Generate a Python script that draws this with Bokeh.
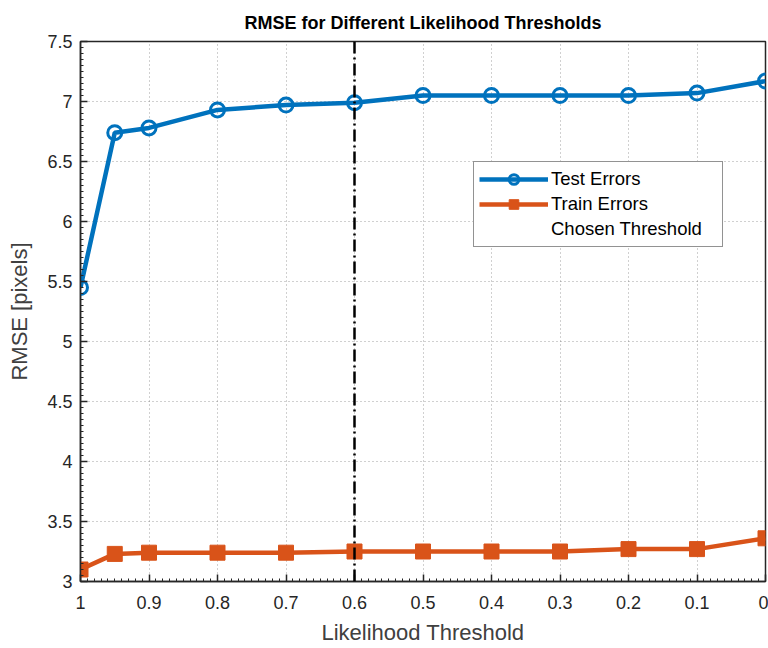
from bokeh.plotting import figure
from bokeh.models import Range1d, FixedTicker, Span, Legend, LegendItem
from bokeh.embed import file_html
from bokeh.resources import INLINE
import numpy as np

# Data
thresholds = [1, 0.95, 0.9, 0.8, 0.7, 0.6, 0.5, 0.4, 0.3, 0.2, 0.1, 0]
test_errors = [5.45, 6.74, 6.78, 6.93, 6.97, 6.99, 7.05, 7.05, 7.05, 7.05, 7.07, 7.17]
train_errors = [3.10, 3.23, 3.24, 3.24, 3.24, 3.25, 3.25, 3.25, 3.25, 3.27, 3.27, 3.36]
chosen_threshold = 0.6

x_ticks = [1, 0.9, 0.8, 0.7, 0.6, 0.5, 0.4, 0.3, 0.2, 0.1, 0]
x_tick_labels = ["1", "0.9", "0.8", "0.7", "0.6", "0.5", "0.4", "0.3", "0.2", "0.1", "0"]
y_ticks = [3, 3.5, 4, 4.5, 5, 5.5, 6, 6.5, 7, 7.5]
y_tick_labels = ["3", "3.5", "4", "4.5", "5", "5.5", "6", "6.5", "7", "7.5"]

FONT = "Liberation Sans"
BLUE = "#0072BD"
ORANGE = "#D95319"
AX = "#262626"

p = figure(width=768, height=648, output_backend="svg", toolbar_location=None,
           x_range=Range1d(1, 0), y_range=Range1d(3, 7.5),
           min_border_left=80, min_border_right=3, min_border_top=41,
           min_border_bottom=67)

p.title.text = "RMSE for Different Likelihood Thresholds"
p.title.text_font = FONT
p.title.text_font_size = "18px"
p.title.text_font_style = "bold"
p.title.text_color = "black"
p.title.align = "center"
p.title.standoff = 17

p.outline_line_color = AX
p.outline_line_width = 1.5
p.outline_line_alpha = 1.0

for ax, ticks, labels in ((p.xaxis[0], x_ticks, x_tick_labels), (p.yaxis[0], y_ticks, y_tick_labels)):
    ax.major_label_overrides = {t: l for t, l in zip(ticks, labels)}
    ax.major_label_text_font = FONT
    ax.major_label_text_font_size = "18px"
    ax.major_label_text_color = AX
    ax.axis_label_text_font = FONT
    ax.axis_label_text_font_size = "22px"
    ax.axis_label_text_font_style = "normal"
    ax.axis_label_text_color = "#404040"
    ax.axis_line_color = AX
    ax.axis_line_width = 1.5
    ax.major_tick_line_color = AX
    ax.major_tick_line_width = 1.5
    ax.major_tick_in = 7
    ax.major_tick_out = 0
    ax.minor_tick_in = 3
    ax.minor_tick_out = 0
    ax.minor_tick_line_color = AX

p.xaxis[0].ticker = FixedTicker(ticks=x_ticks,
                                minor_ticks=[round(v, 3) for v in np.arange(0, 1.0001, 0.01)])
p.yaxis[0].ticker = FixedTicker(ticks=y_ticks,
                                minor_ticks=[round(v, 3) for v in np.arange(3, 7.5001, 0.05)])

p.xaxis.axis_label = "Likelihood Threshold"
p.yaxis.axis_label = "RMSE [pixels]"
p.xaxis.major_label_standoff = 14
p.yaxis.major_label_standoff = 8
p.xaxis.axis_label_standoff = 8
p.yaxis.axis_label_standoff = 12

p.xgrid.ticker = FixedTicker(ticks=x_ticks)
p.ygrid.ticker = FixedTicker(ticks=y_ticks)
p.grid.grid_line_color = "#555555"
p.grid.grid_line_alpha = 0.55
p.grid.grid_line_dash = "1 3"
p.grid.grid_line_width = 1

span = Span(location=chosen_threshold, dimension="height", line_color="black",
            line_width=2.5, line_dash="12 4 2 4")
p.add_layout(span)

l1 = p.line(thresholds, test_errors, line_color=BLUE, line_width=4.5)
m1 = p.scatter(thresholds, test_errors, marker="circle", size=14, fill_color=None,
               line_color=BLUE, line_width=3)
l2 = p.line(thresholds, train_errors, line_color=ORANGE, line_width=4.5)
m2 = p.scatter(thresholds, train_errors, marker="square", size=15, fill_color=ORANGE,
               line_color=ORANGE, line_width=1)
dummy = p.line([chosen_threshold, chosen_threshold], [3, 3], line_alpha=0)

legend = Legend(items=[LegendItem(label="Test Errors", renderers=[l1, m1]),
                       LegendItem(label="Train Errors", renderers=[l2, m2]),
                       LegendItem(label="Chosen Threshold", renderers=[dummy])],
                location=(393, 334))
legend.label_text_font = FONT
legend.label_text_font_size = "18.5px"
legend.label_text_color = "black"
legend.glyph_width = 69
legend.glyph_height = 24
legend.label_height = 24
legend.label_width = 166
legend.label_standoff = 3
legend.spacing = 1
legend.padding = 5
legend.margin = 0
legend.border_line_color = AX
legend.border_line_width = 1.5
legend.background_fill_color = "white"
legend.background_fill_alpha = 1
p.add_layout(legend)

open("out.html", "w").write(file_html(p, INLINE))
